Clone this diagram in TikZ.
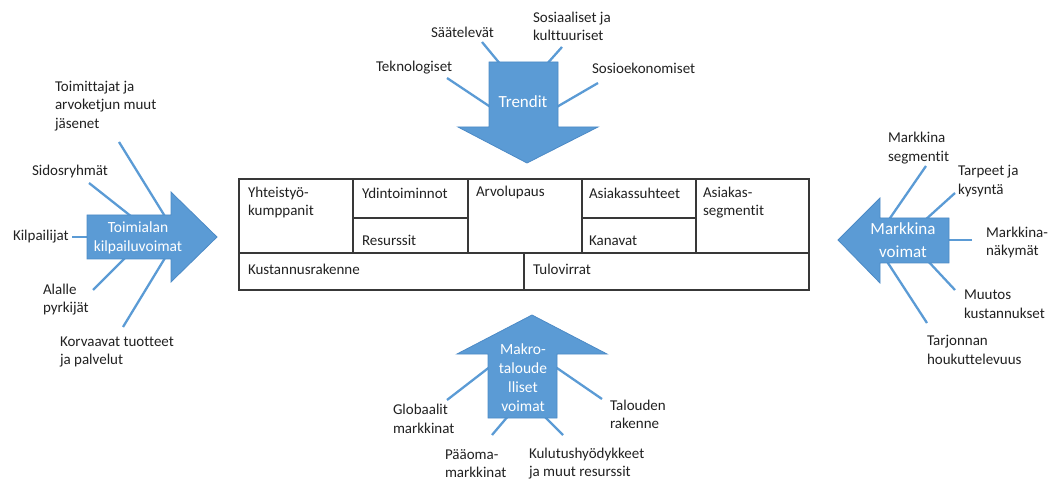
\documentclass[tikz,border=0pt]{standalone}
\usepackage{fontspec}
\setmainfont{Carlito}[Ligatures={NoCommon,NoRare}]
\newlength{\du}
\setlength{\du}{1pt}
\definecolor{arrowfill}{rgb}{0.357, 0.608, 0.835}
\definecolor{arrowline}{rgb}{0.300, 0.540, 0.775}
\definecolor{textcolor}{rgb}{0.130, 0.130, 0.130}
\definecolor{gridline}{rgb}{0.220, 0.220, 0.220}
\tikzset{
  lbl/.style={anchor=west,inner sep=0pt,outer sep=0pt,align=left,text=textcolor,font=\fontsize{15}{18.5}\selectfont},
  arrowtext/.style={inner sep=0pt,outer sep=0pt,align=center,text=white,font=\fontsize{15.5}{19}\selectfont},
  bigtext/.style={arrowtext,font=\fontsize{17}{23}\selectfont},
  spoke/.style={draw=arrowfill,line width=2.3\du},
  bigarrow/.style={fill=arrowfill,draw=arrowline,line width=0.8\du,line join=miter},
  cell/.style={draw=gridline,line width=1.1\du}
}

\begin{document}
\begin{tikzpicture}
\pgftransformxscale{1.000000}
\pgftransformyscale{-1.000000}
\useasboundingbox (0\du,0\du) rectangle (1058\du,481\du);

% canvas
\draw[cell] (239\du,179\du) rectangle (809\du,290\du);
\draw[cell] (239\du,253\du)--(809\du,253\du);
\draw[cell] (353\du,179\du)--(353\du,253\du);
\draw[cell] (468\du,179\du)--(468\du,253\du);
\draw[cell] (582\du,179\du)--(582\du,253\du);
\draw[cell] (696\du,179\du)--(696\du,253\du);
\draw[cell] (353\du,218\du)--(468\du,218\du);
\draw[cell] (582\du,218\du)--(696\du,218\du);
\draw[cell] (524\du,253\du)--(524\du,290\du);
\node[lbl] (kumppanit) at (248\du,202.5\du) {Yhteistyö-\\kumppanit};
\node[lbl] (ydin) at (362\du,193\du) {Ydintoiminnot};
\node[lbl] (resurssit) at (362\du,240.5\du) {Resurssit};
\node[lbl] (arvolupaus) at (476\du,193\du) {Arvolupaus};
\node[lbl] (suhteet) at (589\du,193\du) {Asiakassuhteet};
\node[lbl] (kanavat) at (589\du,240.5\du) {Kanavat};
\node[lbl] (segmentit) at (703\du,202.5\du) {Asiakas-\\segmentit};
\node[lbl] (kustannus) at (248\du,269\du) {Kustannusrakenne};
\node[lbl] (tulot) at (533\du,269\du) {Tulovirrat};

% trendit
\node[lbl] (tek) at (376\du,68\du) {Teknologiset};
\node[lbl] (saa) at (431\du,32\du) {Säätelevät};
\node[lbl] (sos) at (533\du,26.5\du) {Sosiaaliset ja\\kulttuuriset};
\node[lbl] (soe) at (592\du,68\du) {Sosioekonomiset};
\coordinate (tek-a) at (447\du,78\du);
\coordinate (tek-b) at (492\du,108\du);
\coordinate (saa-a) at (482\du,42\du);
\coordinate (saa-b) at (501\du,65\du);
\coordinate (sos-a) at (562\du,47\du);
\coordinate (sos-b) at (546\du,65\du);
\coordinate (soe-a) at (598\du,83\du);
\coordinate (soe-b) at (555\du,108\du);
\draw[spoke] (tek-a)--(tek-b);
\draw[spoke] (saa-a)--(saa-b);
\draw[spoke] (sos-a)--(sos-b);
\draw[spoke] (soe-a)--(soe-b);
\draw[bigarrow] (489\du,62\du)--(558\du,62\du)--(558\du,127\du)--(598\du,127\du)--(527\du,163\du)--(458\du,127\du)--(489\du,127\du)--cycle;
\node[bigtext] (trendit) at (523\du,102\du) {Trendit};

% toimialan kilpailuvoimat
\node[lbl] (toim) at (55\du,106\du) {Toimittajat ja\\arvoketjun muut\\jäsenet};
\node[lbl] (sid) at (32\du,172\du) {Sidosryhmät};
\node[lbl] (kil) at (13\du,237\du) {Kilpailijat};
\node[lbl] (ala) at (43\du,299.5\du) {Alalle\\pyrkijät};
\node[lbl] (kor) at (60\du,352\du) {Korvaavat tuotteet\\ja palvelut};
\coordinate (toim-a) at (119\du,142\du);
\coordinate (toim-b) at (166\du,218\du);
\coordinate (sid-a) at (89\du,183\du);
\coordinate (sid-b) at (132\du,217\du);
\coordinate (kil-a) at (72\du,237\du);
\coordinate (kil-b) at (90\du,237\du);
\coordinate (ala-a) at (93\du,290\du);
\coordinate (ala-b) at (125\du,258\du);
\coordinate (kor-a) at (123\du,327\du);
\coordinate (kor-b) at (165\du,258\du);
\draw[spoke] (toim-a)--(toim-b);
\draw[spoke] (sid-a)--(sid-b);
\draw[spoke] (kil-a)--(kil-b);
\draw[spoke] (ala-a)--(ala-b);
\draw[spoke] (kor-a)--(kor-b);
\draw[bigarrow] (87\du,215\du)--(171\du,215\du)--(171\du,192\du)--(217\du,237\du)--(171\du,282\du)--(171\du,259\du)--(87\du,259\du)--cycle;
\node[arrowtext] (kilpailu) at (138\du,237.5\du) {Toimialan\\kilpailuvoimat};

% markkinavoimat
\node[lbl] (mseg) at (888\du,148\du) {Markkina\\segmentit};
\node[lbl] (tarve) at (958\du,181\du) {Tarpeet ja\\kysyntä};
\node[lbl] (nakym) at (986\du,242.5\du) {Markkina-\\näkymät};
\node[lbl] (muutos) at (964\du,304\du) {Muutos\\kustannukset};
\node[lbl] (tarj) at (927\du,350\du) {Tarjonnan\\houkuttelevuus};
\coordinate (mseg-a) at (926\du,166\du);
\coordinate (mseg-b) at (888\du,221\du);
\coordinate (tarve-a) at (955\du,193\du);
\coordinate (tarve-b) at (924\du,221\du);
\coordinate (nakym-a) at (972\du,240\du);
\coordinate (nakym-b) at (946\du,240\du);
\coordinate (muutos-a) at (955\du,290\du);
\coordinate (muutos-b) at (927\du,260\du);
\coordinate (tarj-a) at (927\du,323\du);
\coordinate (tarj-b) at (886\du,260\du);
\draw[spoke] (mseg-a)--(mseg-b);
\draw[spoke] (tarve-a)--(tarve-b);
\draw[spoke] (nakym-a)--(nakym-b);
\draw[spoke] (muutos-a)--(muutos-b);
\draw[spoke] (tarj-a)--(tarj-b);
\draw[bigarrow] (949\du,218\du)--(880\du,218\du)--(880\du,198\du)--(838\du,240\du)--(880\du,283\du)--(880\du,263\du)--(949\du,263\du)--cycle;
\node[bigtext] (markkina) at (903\du,240.5\du) {Markkina\\voimat};

% makrotaloudelliset voimat
\node[lbl] (glob) at (393\du,419\du) {Globaalit\\markkinat};
\node[lbl] (paaoma) at (445\du,463.5\du) {Pääoma-\\markkinat};
\node[lbl] (kulut) at (529\du,463.5\du) {Kulutushyödykkeet\\ja muut resurssit};
\node[lbl] (talous) at (610\du,414.5\du) {Talouden\\rakenne};
\coordinate (glob-a) at (447\du,400\du);
\coordinate (glob-b) at (491\du,366\du);
\coordinate (paaoma-a) at (492\du,435\du);
\coordinate (paaoma-b) at (509\du,415\du);
\coordinate (kulut-a) at (563\du,435\du);
\coordinate (kulut-b) at (543\du,415\du);
\coordinate (talous-a) at (602\du,399\du);
\coordinate (talous-b) at (554\du,366\du);
\draw[spoke] (glob-a)--(glob-b);
\draw[spoke] (paaoma-a)--(paaoma-b);
\draw[spoke] (kulut-a)--(kulut-b);
\draw[spoke] (talous-a)--(talous-b);
\draw[bigarrow] (488\du,418\du)--(557\du,418\du)--(557\du,354\du)--(607\du,354\du)--(532\du,315\du)--(457\du,354\du)--(488\du,354\du)--cycle;
\node[arrowtext] (makro) at (523\du,377.5\du) {Makro-\\taloude\\lliset\\voimat};
\end{tikzpicture}
\end{document}
